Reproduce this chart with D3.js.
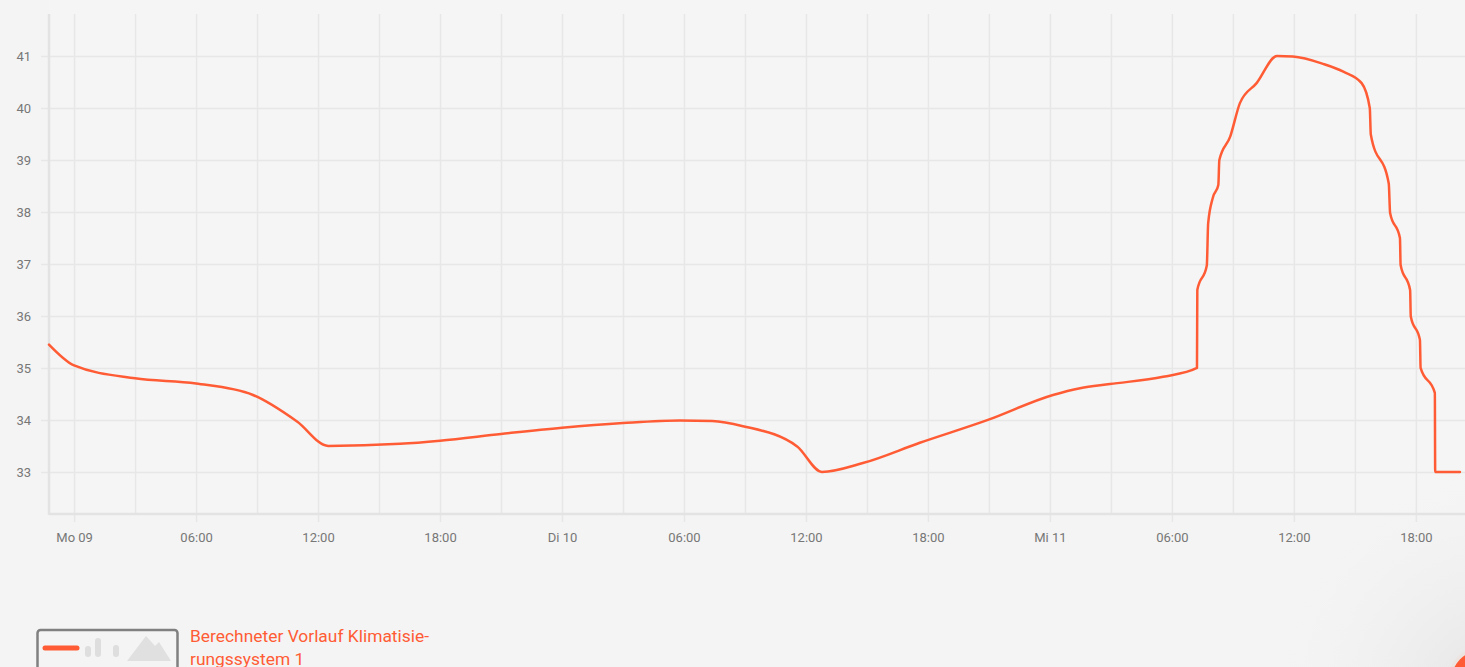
<!DOCTYPE html>
<html>
<head>
<meta charset="utf-8">
<script src="https://cdn.jsdelivr.net/npm/d3@7"></script>
<style>
  html, body { margin: 0; padding: 0; background: #f4f4f4; overflow: hidden; }
  svg { display: block; font-family: Roboto, "Noto Sans", sans-serif; }
</style>
</head>
<body>
<svg id="chart" width="1465" height="667"></svg>
<script>
// ---- data ----
const times = [
  "2023-10-08 22:46", "2023-10-09 00:00", "2023-10-09 03:00", "2023-10-09 06:00",
  "2023-10-09 08:48", "2023-10-09 10:58", "2023-10-09 12:30", "2023-10-09 16:02",
  "2023-10-09 18:00", "2023-10-09 21:00", "2023-10-10 00:00", "2023-10-10 03:00",
  "2023-10-10 05:48", "2023-10-10 07:23", "2023-10-10 08:54", "2023-10-10 11:34",
  "2023-10-10 12:47", "2023-10-10 14:48", "2023-10-10 17:36", "2023-10-10 20:57",
  "2023-10-11 00:09", "2023-10-11 01:29", "2023-10-11 02:57", "2023-10-11 05:34",
  "2023-10-11 07:14", "2023-10-11 07:15", "2023-10-11 07:43", "2023-10-11 07:47",
  "2023-10-11 08:01", "2023-10-11 08:17", "2023-10-11 08:20", "2023-10-11 08:52",
  "2023-10-11 09:21", "2023-10-11 10:10", "2023-10-11 11:10", "2023-10-11 11:57",
  "2023-10-11 13:26", "2023-10-11 14:26", "2023-10-11 15:20", "2023-10-11 15:44", "2023-10-11 15:47",
  "2023-10-11 16:40", "2023-10-11 16:44", "2023-10-11 17:13", "2023-10-11 17:15",
  "2023-10-11 17:43", "2023-10-11 17:45", "2023-10-11 18:12", "2023-10-11 18:14",
  "2023-10-11 18:56", "2023-10-11 18:57", "2023-10-11 20:10"
];
const values = [
  35.45, 35.05, 34.80, 34.70,
  34.48, 33.97, 33.50, 33.54,
  33.60, 33.73, 33.85, 33.94,
  33.99, 33.98, 33.88, 33.49,
  33.00, 33.17, 33.56, 34.00,
  34.48, 34.61, 34.69, 34.83,
  35.00, 36.50, 36.97, 37.78,
  38.28, 38.52, 39.00, 39.45,
  40.10, 40.48, 41.00, 40.99,
  40.85, 40.70, 40.48, 40.00, 39.49,
  38.55, 37.98, 37.50, 36.98,
  36.50, 35.99, 35.54, 35.00,
  34.52, 33.00, 33.00
];
const yTicks = [33, 34, 35, 36, 37, 38, 39, 40, 41];
const xTickLabels = ["Mo 09", "06:00", "12:00", "18:00", "Di 10", "06:00", "12:00", "18:00", "Mi 11", "06:00", "12:00", "18:00"];
const xDomain = ["2023-10-08 22:46", "2023-10-11 20:25"];
const yDomain = [32.19, 41.81];
const seriesName = ["Berechneter Vorlauf Klimatisie-", "rungssystem 1"];

(function () {
// ---- setup ----
const parse = d3.timeParse("%Y-%m-%d %H:%M");
const data = times.map((t, i) => ({ t: parse(t), v: values[i] }));

const svg = d3.select("#chart");
const W = 1465, H = 667;
const pL = 49, pR = 1465, pT = 14, pB = 514;
const color = "#ff5c35";
const gridColor = "#e7e7e7";

// background + shadow corner
const defs = svg.append("defs");
const rg = defs.append("radialGradient").attr("id", "shadow")
  .attr("cx", "50%").attr("cy", "50%").attr("r", "50%");
rg.append("stop").attr("offset", "0%").attr("stop-color", "#e2e2e2").attr("stop-opacity", 1);
rg.append("stop").attr("offset", "100%").attr("stop-color", "#f4f4f4").attr("stop-opacity", 0);
svg.append("rect").attr("width", W).attr("height", H).attr("fill", "#f4f4f4");
svg.append("rect").attr("x", pL).attr("y", 0).attr("width", W - pL).attr("height", pB).attr("fill", "#f5f5f5");
svg.append("circle").attr("cx", 1500).attr("cy", 700).attr("r", 240).attr("fill", "url(#shadow)");

const x = d3.scaleTime().domain(xDomain.map(parse)).range([pL, pR]);
const y = d3.scaleLinear().domain(yDomain).range([pB, pT]);

// vertical grid every 3h
const gridV = svg.append("g").attr("transform", `translate(0,${pB})`)
  .call(d3.axisBottom(x).ticks(d3.timeHour.every(3)).tickSize(-(pB - pT)).tickFormat(""));
gridV.select(".domain").remove();
gridV.selectAll("line").attr("stroke", gridColor).attr("stroke-width", 1.5);

// horizontal grid
const gridH = svg.append("g").attr("transform", `translate(${pL},0)`)
  .call(d3.axisLeft(y).tickValues(yTicks).tickSize(-(pR - pL)).tickFormat(""));
gridH.select(".domain").remove();
gridH.selectAll("line").attr("stroke", gridColor).attr("stroke-width", 1.5).attr("x1", -8);

// y labels
const yAx = svg.append("g").attr("transform", `translate(${pL},0)`)
  .call(d3.axisLeft(y).tickValues(yTicks).tickSize(0).tickPadding(18).tickFormat(d3.format("d")));
yAx.select(".domain").remove();
yAx.selectAll("text").attr("fill", "#777").attr("font-size", 13).attr("font-family", "Roboto, sans-serif");

// x axis labels every 6h
const start = parse("2023-10-09 00:00");
const xTickVals = xTickLabels.map((_, i) => d3.timeHour.offset(start, i * 6));
const xAx = svg.append("g").attr("transform", `translate(0,${pB})`)
  .call(d3.axisBottom(x).tickValues(xTickVals).tickSize(8).tickPadding(11)
    .tickFormat((d, i) => xTickLabels[i]));
xAx.select(".domain").remove();
xAx.selectAll("line").attr("stroke", gridColor).attr("stroke-width", 1.5);
xAx.selectAll("text").attr("fill", "#777").attr("font-size", 13).attr("font-family", "Roboto, sans-serif");

// axis lines
svg.append("line").attr("x1", pL).attr("x2", pL).attr("y1", pT).attr("y2", pB + 1)
  .attr("stroke", "#e3e3e3").attr("stroke-width", 2.5);
svg.append("line").attr("x1", pL).attr("x2", pR).attr("y1", pB).attr("y2", pB)
  .attr("stroke", "#e3e3e3").attr("stroke-width", 2.5);

// series line
const line = d3.line().x(d => x(d.t)).y(d => y(d.v)).curve(d3.curveMonotoneX);
svg.append("path").datum(data).attr("d", line)
  .attr("fill", "none").attr("stroke", color).attr("stroke-width", 2.5)
  .attr("stroke-linejoin", "round").attr("stroke-linecap", "round");

// legend
const lg = svg.append("g");
lg.append("rect").attr("x", 37.5).attr("y", 630).attr("width", 140).attr("height", 40).attr("rx", 3)
  .attr("fill", "none").attr("stroke", "#808080").attr("stroke-width", 2.5);
lg.append("line").attr("x1", 45).attr("x2", 77).attr("y1", 648).attr("y2", 648)
  .attr("stroke", color).attr("stroke-width", 5).attr("stroke-linecap", "round");
[[88, 646, 657], [98, 638, 657], [116, 645, 657]].forEach(([bx, y1, y2]) => {
  lg.append("line").attr("x1", bx).attr("x2", bx).attr("y1", y1 + 3).attr("y2", y2 - 3)
    .attr("stroke", "#dedede").attr("stroke-width", 6).attr("stroke-linecap", "round");
});
lg.append("polygon").attr("points", "127,661 146,636 155,646 159,642 171,661").attr("fill", "#e0e0e0");
lg.append("text").attr("x", 190).attr("y", 642).attr("fill", color).attr("font-size", 17.4)
  .attr("font-family", "Roboto, sans-serif").text(seriesName[0]);
lg.append("text").attr("x", 190).attr("y", 665).attr("fill", color).attr("font-size", 17.4)
  .attr("font-family", "Roboto, sans-serif").text(seriesName[1]);

// floating button corner
svg.append("circle").attr("cx", 1481).attr("cy", 680).attr("r", 33).attr("fill", "#ece4e0");
svg.append("circle").attr("cx", 1481).attr("cy", 680).attr("r", 29.5).attr("fill", color);
})();
</script>
</body>
</html>
